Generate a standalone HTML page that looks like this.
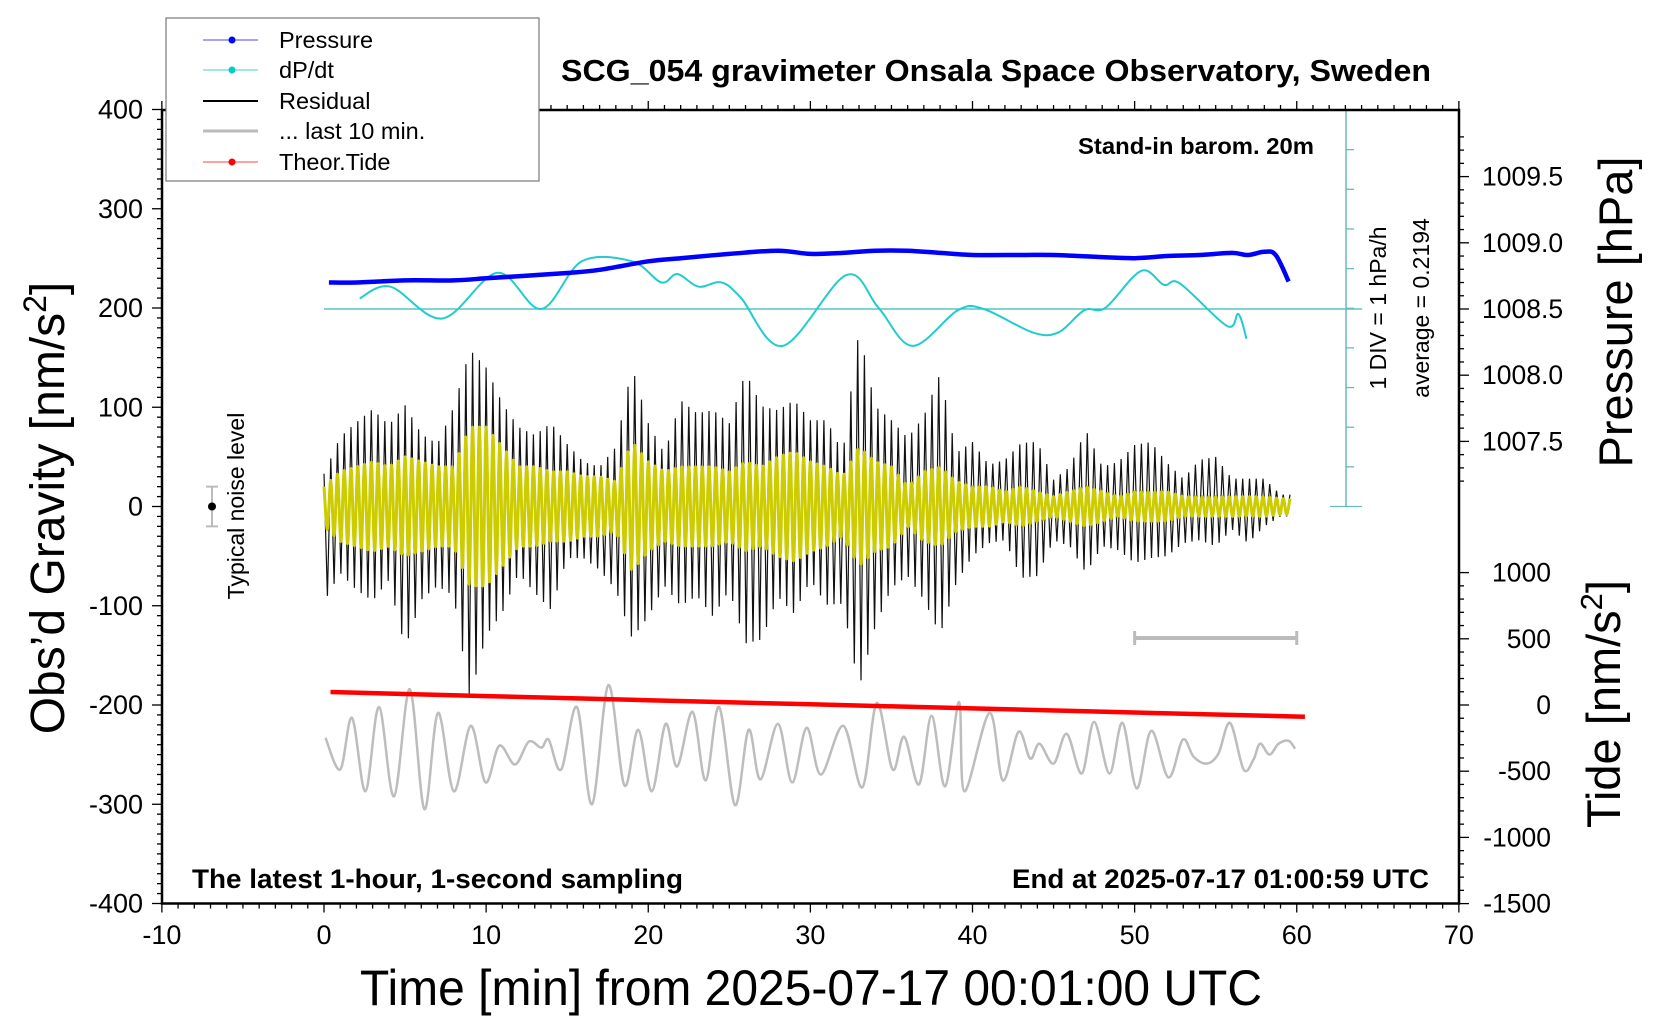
<!DOCTYPE html>
<html><head><meta charset="utf-8">
<style>
html,body{margin:0;padding:0;background:#fff;}
svg{display:block;font-family:"Liberation Sans",Arial,sans-serif;}
</style></head>
<body>
<svg id="chart" width="1660" height="1020" viewBox="0 0 1660 1020" xmlns="http://www.w3.org/2000/svg">
<rect x="0" y="0" width="1660" height="1020" fill="#fff"/>
<g id="ticks"></g>
<g id="series"></g>
<!-- frame -->
<rect x="162" y="110" width="1297" height="793.5" fill="none" stroke="#000" stroke-width="2.5"/>
<!-- titles -->
<text x="561" y="81" font-size="31" font-weight="bold" textLength="870" lengthAdjust="spacingAndGlyphs">SCG_054 gravimeter Onsala Space Observatory, Sweden</text>
<text x="1078" y="154" font-size="23" font-weight="bold" textLength="236" lengthAdjust="spacingAndGlyphs">Stand-in barom. 20m</text>
<text x="192" y="888" font-size="27" font-weight="bold" textLength="491" lengthAdjust="spacingAndGlyphs">The latest 1-hour, 1-second sampling</text>
<text x="1012" y="888" font-size="27" font-weight="bold" textLength="417" lengthAdjust="spacingAndGlyphs">End at 2025-07-17 01:00:59 UTC</text>
<text x="360" y="1005" font-size="50" textLength="902" lengthAdjust="spacingAndGlyphs">Time [min] from 2025-07-17 00:01:00 UTC</text>
<text transform="translate(64,508) rotate(-90)" font-size="48" text-anchor="middle">Obs’d Gravity [nm/s<tspan font-size="32" dy="-18">2</tspan><tspan dy="18">]</tspan></text>
<text transform="translate(1632,312) rotate(-90)" font-size="47" text-anchor="middle">Pressure [hPa]</text>
<text transform="translate(1620,704) rotate(-90)" font-size="47" text-anchor="middle">Tide [nm/s<tspan font-size="31" dy="-18">2</tspan><tspan dy="18">]</tspan></text>
<text transform="translate(1386,308) rotate(-90)" font-size="23" text-anchor="middle">1 DIV = 1 hPa/h</text>
<text transform="translate(1429,308) rotate(-90)" font-size="23" text-anchor="middle">average = 0.2194</text>
<text transform="translate(244,506) rotate(-90)" font-size="23" text-anchor="middle">Typical noise level</text>
<!-- legend -->
<g>
<rect x="166" y="18" width="373" height="163" fill="#fff" stroke="#777" stroke-width="1.2"/>
<g><line x1="203" y1="40" x2="258" y2="40" stroke="#4444ff" stroke-width="1"/><circle cx="232" cy="40" r="3.5" fill="#0000ff"/><text x="279" y="48" font-size="23.5">Pressure</text></g>
<g><line x1="203" y1="70" x2="258" y2="70" stroke="#44cccc" stroke-width="1"/><circle cx="232" cy="70" r="3.5" fill="#00cccc"/><text x="279" y="78" font-size="23.5">dP/dt</text></g>
<g><line x1="203" y1="101" x2="258" y2="101" stroke="#000" stroke-width="2"/><text x="279" y="109" font-size="23.5">Residual</text></g>
<g><line x1="203" y1="131" x2="258" y2="131" stroke="#bbb" stroke-width="3"/><text x="279" y="139" font-size="23.5">... last 10 min.</text></g>
<g><line x1="203" y1="162" x2="258" y2="162" stroke="#ff4444" stroke-width="1"/><circle cx="232" cy="162" r="3.5" fill="#ff0000"/><text x="279" y="170" font-size="23.5">Theor.Tide</text></g>
</g>
</svg>
<script>
// ---------- data ----------
const xTicks = [-10,0,10,20,30,40,50,60,70];
const gravTicks = [400,300,200,100,0,-100,-200,-300,-400];
const pressTicks = [1009.5,1009.0,1008.5,1008.0,1007.5];
const tideTicks = [1000,500,0,-500,-1000,-1500];

const pressT = [0.3,2,5,8,10,12,15,17,20,22,25,28,30,32,34,36,38,40,43,45,48,50,52,54,56,57,58,58.7,59.5];
const pressV = [1008.70,1008.70,1008.716,1008.716,1008.732,1008.748,1008.772,1008.796,1008.86,1008.884,1008.916,1008.94,1008.916,1008.924,1008.94,1008.94,1008.924,1008.908,1008.908,1008.908,1008.892,1008.884,1008.90,1008.908,1008.924,1008.908,1008.932,1008.908,1008.708];

const dpdtAvg = 0.2194;
const dpdtT = [2.2,4.1,7.3,10.7,13.4,15.9,19.0,20.8,21.8,23.1,24.5,25.7,28.3,32.2,34.2,36.3,39.1,40.7,43.7,45.3,46.9,48.2,50.4,51.8,52.8,55.7,56.4,56.9];
const dpdtV = [0.49,0.78,-0.02,1.13,0.22,1.42,1.42,0.89,1.10,0.78,0.89,0.51,-0.71,1.07,0.25,-0.71,0.19,0.22,-0.37,-0.37,0.19,0.25,1.18,0.83,0.86,-0.21,0.09,-0.53];

// residual envelope per minute (0..59)
const residTop = [33,70,85,98,82,102,73,63,100,158,140,104,80,72,84,63,45,40,60,141,84,53,107,94,97,84,135,101,97,107,87,87,54,178,101,87,69,91,134,54,65,42,47,64,65,27,40,77,40,45,62,65,44,28,47,50,28,28,28,12];
const residBot = [-96,-67,-84,-95,-74,-143,-94,-80,-90,-193,-130,-107,-67,-87,-104,-52,-52,-64,-84,-133,-111,-80,-100,-90,-111,-84,-138,-134,-91,-108,-74,-99,-98,-183,-121,-82,-70,-94,-129,-77,-50,-37,-34,-72,-70,-34,-40,-67,-40,-44,-57,-52,-50,-37,-34,-40,-23,-37,-20,-10];
const yellowAmp = [20,35,40,45,40,50,45,40,40,80,80,60,40,40,35,35,30,30,25,65,45,35,40,40,40,35,45,40,50,55,45,40,30,60,45,40,20,35,40,25,20,20,15,20,15,10,15,20,15,10,15,15,15,10,10,10,10,10,10,8];

const greyT = [0.09,1.0,1.73,2.56,3.39,4.32,5.29,6.19,7.03,8.01,9.05,9.96,10.81,11.78,12.63,13.41,13.86,14.63,15.6,16.53,17.54,18.53,19.38,20.22,21.07,21.78,22.73,23.54,24.37,25.35,26.19,26.92,28.0,28.87,29.77,30.65,32.03,33.2,34.1,35.07,35.79,36.7,37.48,38.31,39.17,39.5,41.05,41.87,42.84,43.56,44.13,45.0,45.81,46.74,47.5,48.45,49.25,50.13,51.02,52.09,52.97,53.63,54.45,55.17,55.89,56.72,57.33,57.74,58.32,58.88,59.49,59.9];
const greyV = [-233,-265,-213,-287,-202,-292,-184,-305,-208,-287,-221,-278,-241,-260,-237,-243,-235,-265,-202,-300,-180,-281,-225,-287,-219,-262,-207,-276,-202,-301,-225,-275,-219,-278,-223,-270,-221,-283,-198,-265,-232,-280,-211,-282,-197,-287,-208,-276,-227,-254,-239,-259,-229,-269,-217,-269,-218,-284,-226,-273,-235,-252,-259,-249,-218,-265,-255,-239,-250,-239,-236,-244];

const tideT = [0.4,10,20,30,40,50,60.5];
const tideV = [98,67,36,5,-26,-57,-88];

// ---------- axes ----------
const X = t => 324 + t*16.2125;
const Yg = g => 506.5 - g*0.9925;
const Yp = p => 309 - (p-1008.5)*132.4;
const Yt = v => 705 - v*0.1324;
const Yd = v => 309 - (v-dpdtAvg)*39.7;

const NS = 'http://www.w3.org/2000/svg';
function mk(tag, parent, attrs){
  const e = document.createElementNS(NS, tag);
  for (const k in attrs) e.setAttribute(k, attrs[k]);
  parent.appendChild(e);
  return e;
}
const tg = document.getElementById('ticks');
const sg = document.getElementById('series');

// x ticks
for (let t=-10; t<=70; t++){
  const major = t%10===0;
  const L = major?9:5;
  mk('line', tg, {x1:X(t),x2:X(t),y1:903.5,y2:903.5+L,stroke:'#000','stroke-width':1.3});
  mk('line', tg, {x1:X(t),x2:X(t),y1:110,y2:110-L,stroke:'#000','stroke-width':1.3});
}
xTicks.forEach(t=>{
  const el = mk('text', tg, {x:X(t), y:944, 'font-size':27, 'text-anchor':'middle'});
  el.textContent = t;
  
  
});
// gravity ticks
for (let g=-400; g<=400; g+=10){
  const major = g%100===0;
  mk('line', tg, {x1:162, x2:162-(major?10:5), y1:Yg(g), y2:Yg(g), stroke:'#000','stroke-width':1.3});
}
gravTicks.forEach(g=>{
  const el = mk('text', tg, {x:143, y:Yg(g)+9, 'font-size':27, 'text-anchor':'end'});
  el.textContent = g;
  
  
});
// pressure ticks
for (let i=0;i<=26;i++){
  const p = 1007.2 + i*0.1;
  const y = Yp(p);
  if (y < 110 || y > 506.5) continue;
  const major = Math.abs(Math.round(p*2)-p*2) < 1e-6;
  mk('line', tg, {x1:1459, x2:1459+(major?10:5), y1:y, y2:y, stroke:'#000','stroke-width':1.3});
}
pressTicks.forEach(p=>{
  const el = mk('text', tg, {x:1482, y:Yp(p)+9, 'font-size':26.5});
  el.textContent = p.toFixed(1);
  
  
});
// tide ticks
for (let v=-1500; v<=1000; v+=100){
  const major = v%500===0;
  mk('line', tg, {x1:1459, x2:1459+(major?10:5), y1:Yt(v), y2:Yt(v), stroke:'#000','stroke-width':1.3});
}
tideTicks.forEach(v=>{
  const el = mk('text', tg, {x:1551, y:Yt(v)+9, 'font-size':26.5, 'text-anchor':'end'});
  el.textContent = v;
  
  
});

// ---------- helpers ----------
function smoothPath(pts){
  let d = 'M'+pts[0][0].toFixed(1)+','+pts[0][1].toFixed(1);
  for (let i=0;i<pts.length-1;i++){
    const p0 = pts[Math.max(0,i-1)], p1 = pts[i], p2 = pts[i+1], p3 = pts[Math.min(pts.length-1,i+2)];
    const c1x = p1[0]+(p2[0]-p0[0])/6, c1y = p1[1]+(p2[1]-p0[1])/6;
    const c2x = p2[0]-(p3[0]-p1[0])/6, c2y = p2[1]-(p3[1]-p1[1])/6;
    d += ' C'+c1x.toFixed(1)+','+c1y.toFixed(1)+' '+c2x.toFixed(1)+','+c2y.toFixed(1)+' '+p2[0].toFixed(1)+','+p2[1].toFixed(1);
  }
  return d;
}
function interp(arr, t){
  const i = Math.max(0, Math.min(arr.length-1, Math.floor(t)));
  const j = Math.min(arr.length-1, i+1);
  const f = Math.max(0, Math.min(1, t - i));
  return arr[i]*(1-f) + arr[j]*f;
}

// ---------- dP/dt scale (cyan) ----------
mk('line', sg, {x1:X(0), x2:1362, y1:Yd(dpdtAvg), y2:Yd(dpdtAvg), stroke:'#33bbbb','stroke-width':1.3});
mk('line', sg, {x1:1346, x2:1346, y1:110, y2:506.5, stroke:'#66bbbb','stroke-width':1.5});
for (let k=0;k<=10;k++){
  const y = 110 + k*39.65;
  const ends = (k===0||k===10);
  mk('line', sg, {x1:ends?1330:1346, x2:ends?1362:1354, y1:y, y2:y, stroke:'#66bbbb','stroke-width':1.3});
}

// ---------- noise level marker ----------
const nz = mk('g', sg, {});


mk('line', nz, {x1:212, x2:212, y1:Yg(20), y2:Yg(-20), stroke:'#bbb','stroke-width':2});
mk('line', nz, {x1:206, x2:218, y1:Yg(20), y2:Yg(20), stroke:'#bbb','stroke-width':2});
mk('line', nz, {x1:206, x2:218, y1:Yg(-20), y2:Yg(-20), stroke:'#bbb','stroke-width':2});
mk('circle', nz, {cx:212, cy:Yg(0), r:4, fill:'#000'});

// 10-min span bar
const sb = mk('g', sg, {});


mk('line', sb, {x1:X(50), x2:X(60), y1:638, y2:638, stroke:'#bbb','stroke-width':4});
mk('line', sb, {x1:X(50), x2:X(50), y1:631, y2:645, stroke:'#bbb','stroke-width':3});
mk('line', sb, {x1:X(60), x2:X(60), y1:631, y2:645, stroke:'#bbb','stroke-width':3});

// ---------- grey last 10 min ----------
const gp = mk('path', sg, {d:smoothPath(greyT.map((t,i)=>[X(t),Yg(greyV[i])])), fill:'none', stroke:'#bdbdbd','stroke-width':2.5});



// ---------- residual (black) ----------
const tEnd = 59.7;
let rp = [];
const half = 1/4.8;
for (let k=0; k*half<=tEnd; k++){
  const t = k*half;
  const v = (k%2===0) ? interp(residTop, t) : interp(residBot, t);
  rp.push([X(t), Yg(v)]);
}
const rd = 'M'+rp.map(p=>p[0].toFixed(1)+','+p[1].toFixed(1)).join(' L');
const resid = mk('path', sg, {d:rd, fill:'none', stroke:'#111','stroke-width':1.2,'stroke-linejoin':'miter'});



// ---------- filtered residual (yellow) ----------
let yp = [];
for (let k=0; k*half<=tEnd; k++){
  const t = k*half;
  const a = interp(yellowAmp, t);
  const v = (k%2===0) ? a : -a;
  yp.push([X(t), Yg(v)]);
}
const yl = mk('path', sg, {d:smoothPath(yp), fill:'none', stroke:'#cccc00','stroke-width':3});



// ---------- tide (red) ----------
const tl = mk('path', sg, {d:'M'+tideT.map((t,i)=>X(t).toFixed(1)+','+Yt(tideV[i]).toFixed(1)).join(' L'), fill:'none', stroke:'#ff0000','stroke-width':4.5});



// ---------- dP/dt (cyan) ----------
const dl = mk('path', sg, {d:smoothPath(dpdtT.map((t,i)=>[X(t),Yd(dpdtV[i])])), fill:'none', stroke:'#22cccc','stroke-width':2});



// ---------- pressure (blue) ----------
const pl = mk('path', sg, {d:smoothPath(pressT.map((t,i)=>[X(t),Yp(pressV[i])])), fill:'none', stroke:'#0000ff','stroke-width':4.5});


</script>
</body></html>
